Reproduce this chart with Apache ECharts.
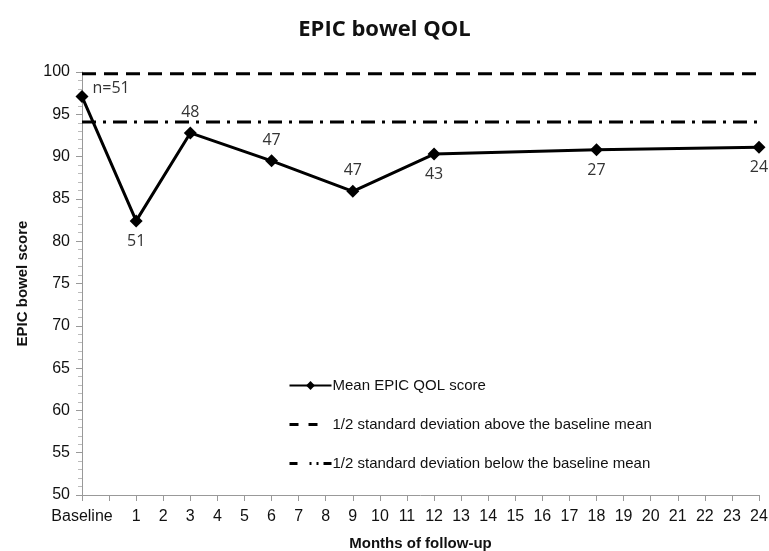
<!DOCTYPE html>
<html><head><meta charset="utf-8">
<script src="https://cdn.jsdelivr.net/npm/echarts@6/dist/echarts.min.js"></script>
<style>html,body{margin:0;padding:0;background:#fff}#c{width:769px;height:551px}</style>
</head><body><div id="c"></div>
<script>
const categories = ['Baseline','','1','2','3','4','5','6','7','8','9','10','11','12','13','14','15','16','17','18','19','20','21','22','23','24'];
const meanScores = [97.1, null, 82.4, null, 92.8, null, null, 89.5, null, null, 85.9, null, null, 90.3, null, null, null, null, null, 90.8, null, null, null, null, null, 91.1];
const sampleSizes = ['n=51', null, '51', null, '48', null, null, '47', null, null, '47', null, null, '43', null, null, null, null, null, '27', null, null, null, null, null, '24'];
const labelSides = ['right', null, 'bottom', null, 'top', null, null, 'top', null, null, 'top', null, null, 'bottom', null, null, null, null, null, 'bottom', null, null, null, null, null, 'bottom'];
const upperSD = 99.8;
const lowerSD = 94.1;
const yTicks = [50, 55, 60, 65, 70, 75, 80, 85, 90, 95, 100];

const seriesNames = ['Mean EPIC QOL score', '1/2 standard deviation above the baseline mean', '1/2 standard deviation below the baseline mean'];

const meanData = meanScores.map((v, i) => {
  if (v == null) return null;
  const pos = labelSides[i];
  const lab = {show: true, formatter: sampleSizes[i], position: pos, distance: 6};
  if (pos === 'right') { lab.offset = [0, -8]; lab.distance = 4; }
  return {value: v, label: lab};
});

const hiddenMarker = {color: 'rgba(0,0,0,0)', borderColor: 'rgba(0,0,0,0)', borderWidth: 0};

const chart = echarts.init(document.getElementById('c'));
chart.setOption({
  animation: false,
  title: {text: 'EPIC bowel QOL', left: 'center', top: 14,
    textStyle: {fontFamily: 'Open Sans', fontWeight: 'bold', fontSize: 22, color: '#111'}},
  grid: {left: 82, right: 10, top: 72, bottom: 56, outerBoundsMode: 'none', containLabel: false},
  legend: {
    orient: 'vertical', left: 283, top: 373, itemGap: 24, itemWidth: 42, itemHeight: 11,
    data: [
      {name: seriesNames[0]},
      {name: seriesNames[1], itemStyle: hiddenMarker, lineStyle: {color: '#000', type: [9, 10, 9, 20], width: 3}},
      {name: seriesNames[2], itemStyle: hiddenMarker, lineStyle: {color: '#000', type: [8, 12, 2, 5, 2, 5, 8, 10], width: 3}}
    ],
    textStyle: {fontFamily: 'Liberation Sans', fontSize: 15, color: '#111', padding: [0,0,0,-4]}
  },
  xAxis: {
    type: 'category', data: categories, boundaryGap: false,
    name: 'Months of follow-up', nameLocation: 'middle', nameGap: 41,
    nameTextStyle: {fontFamily: 'Liberation Sans', fontWeight: 'bold', fontSize: 15, color: '#111'},
    axisLine: {lineStyle: {color: '#999', width: 1}},
    axisTick: {show: true, alignWithLabel: true, interval: 0, length: 6, lineStyle: {color: '#999'}},
    axisLabel: {fontFamily: 'Liberation Sans', fontSize: 16, color: '#111', interval: 0, margin: 14},
    splitLine: {show: false}
  },
  yAxis: {
    type: 'value', min: yTicks[0], max: yTicks[yTicks.length - 1], interval: 5,
    name: 'EPIC bowel score', nameLocation: 'middle', nameGap: 52,
    nameTextStyle: {fontFamily: 'Liberation Sans', fontWeight: 'bold', fontSize: 15, color: '#111'},
    axisLine: {show: true, lineStyle: {color: '#999', width: 1}},
    axisTick: {show: true, length: 6, lineStyle: {color: '#999'}},
    minorTick: {show: true, splitNumber: 5, length: 4, lineStyle: {color: '#bbb'}},
    axisLabel: {fontFamily: 'Liberation Sans', fontSize: 16, color: '#111', margin: 12},
    splitLine: {show: false}
  },
  series: [
    {
      name: seriesNames[0], type: 'line', data: meanData, connectNulls: true,
      symbol: 'diamond', symbolSize: 13,
      lineStyle: {color: '#000', width: 3}, itemStyle: {color: '#000'},
      label: {fontFamily: 'Open Sans', fontSize: 16, color: '#333'},
      z: 5
    },
    {
      name: seriesNames[1], type: 'line', data: categories.map(() => upperSD),
      symbol: 'none', lineStyle: {color: '#000', width: 3, type: [14, 8]},
      itemStyle: {color: '#000'}
    },
    {
      name: seriesNames[2], type: 'line', data: categories.map(() => lowerSD),
      symbol: 'none', lineStyle: {color: '#000', width: 3, type: [14, 7, 3, 7]},
      itemStyle: {color: '#000'}
    }
  ]
});
</script></body></html>
